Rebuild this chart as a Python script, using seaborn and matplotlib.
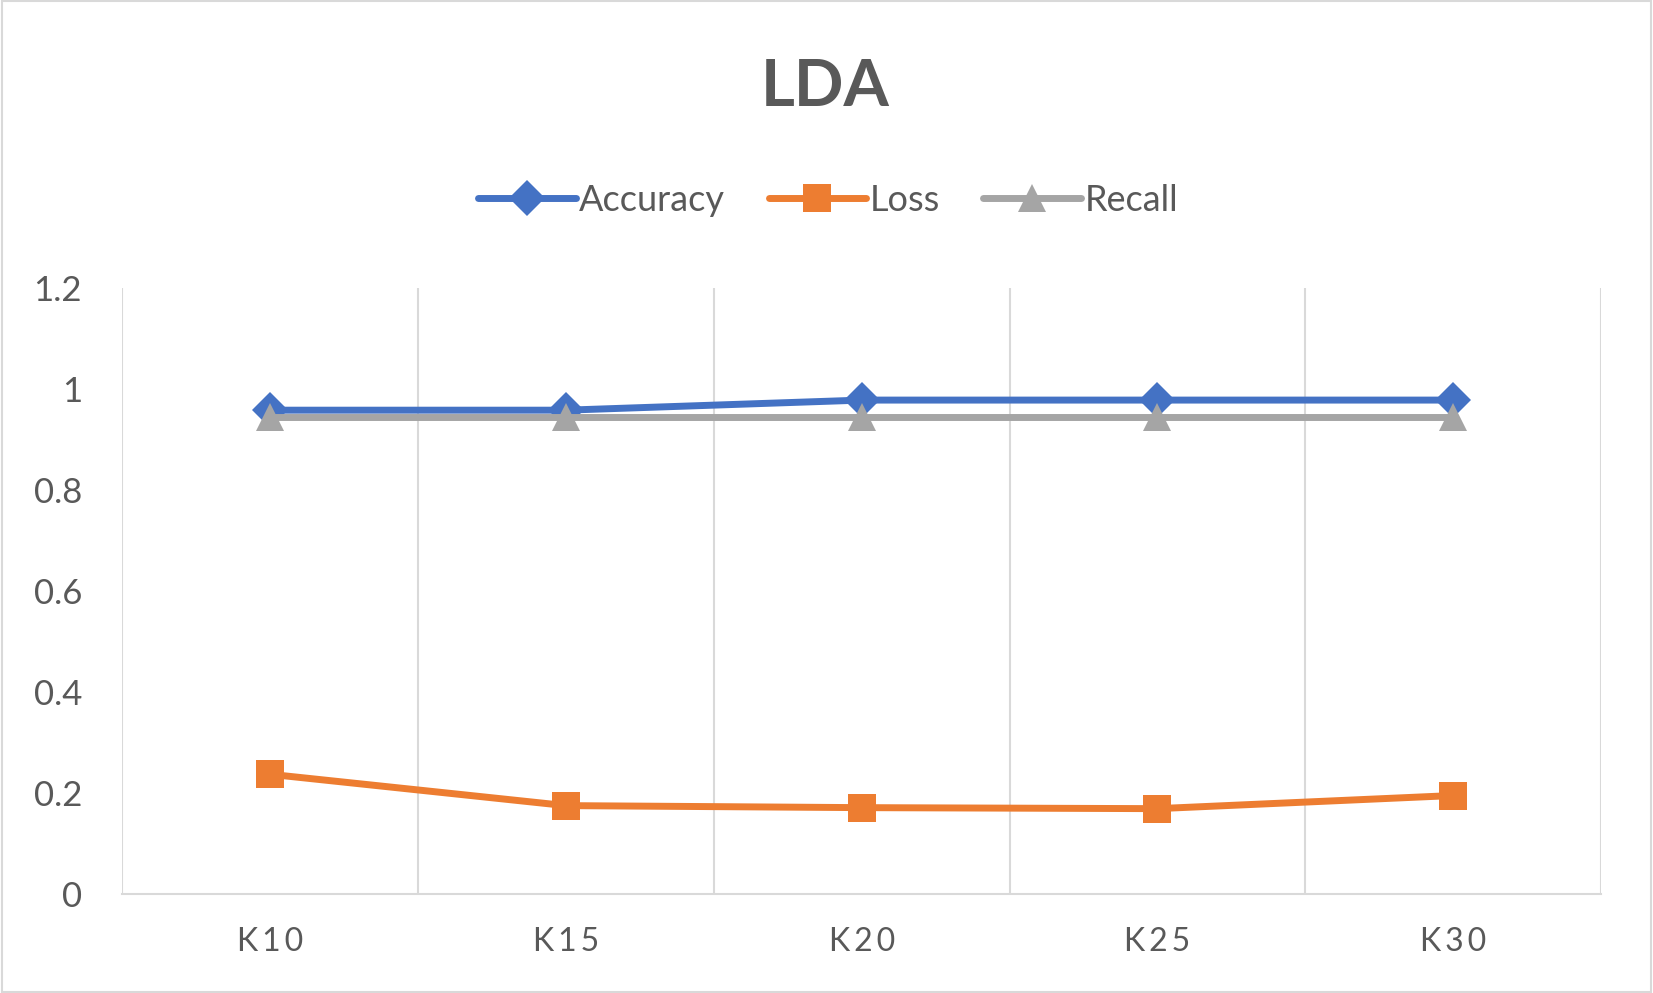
import pandas as pd
import matplotlib.pyplot as plt
import seaborn as sns
from matplotlib.patches import Rectangle

# -------------------- DATA --------------------
categories = ["K10", "K15", "K20", "K25", "K30"]
accuracy = [0.958, 0.958, 0.978, 0.978, 0.978]
loss = [0.237, 0.175, 0.171, 0.169, 0.195]
recall = [0.945, 0.945, 0.945, 0.945, 0.945]
y_ticks = [0, 0.2, 0.4, 0.6, 0.8, 1, 1.2]
y_tick_labels = ["0", "0.2", "0.4", "0.6", "0.8", "1", "1.2"]

series = [
    ("Accuracy", accuracy, "#4472C4", "D", 18),
    ("Loss", loss, "#ED7D31", "s", 20),
    ("Recall", recall, "#A5A5A5", "^", 20),
]

# -------------------- STYLE --------------------
sns.set_theme(style="white")
plt.rcParams["font.family"] = ["Lato", "DejaVu Sans"]
text_col = "#595959"

fig = plt.figure(figsize=(16.53, 9.93), dpi=100)
ax = fig.add_axes([0.074, 0.0997, 0.8946, 0.6103])

for name, vals, col, mk, ms in series:
    df = pd.DataFrame({"k": categories, "v": vals})
    sns.lineplot(data=df, x="k", y="v", ax=ax, color=col, linewidth=5,
                 marker=mk, markersize=ms, markeredgewidth=0,
                 label=name, sort=False)

# vertical grid lines between categories (Excel style)
ax.set_xlim(-0.5, len(categories) - 0.5)
ax.set_ylim(0, 1.2)
for xb in [i + 0.5 for i in range(-1, len(categories))]:
    ax.axvline(xb, color="#D9D9D9", linewidth=1.5, zorder=0)

ax.set_yticks(y_ticks)
ax.set_yticklabels(y_tick_labels)
ax.set_xticks(range(len(categories)))
# wide letter spacing like the original axis labels
ax.set_xticklabels(["\u2009".join(c) for c in categories])
ax.tick_params(axis="both", length=0, labelcolor=text_col)
ax.tick_params(axis="y", pad=29, labelsize=25)
ax.tick_params(axis="x", pad=24, labelsize=23)
ax.set_xlabel("")
ax.set_ylabel("")
for s in ["top", "right", "left"]:
    ax.spines[s].set_visible(False)
ax.spines["bottom"].set_color("#D9D9D9")
ax.spines["bottom"].set_linewidth(1.5)

fig.text(0.4995, 0.912, "LDA", ha="center", va="center",
         fontsize=47, fontweight="bold", color=text_col)

ax.legend(loc="center", bbox_to_anchor=(0.501, 0.798), bbox_transform=fig.transFigure,
          ncol=3, frameon=False, fontsize=26, labelcolor=text_col,
          handlelength=2.7, handletextpad=0.1, columnspacing=1.2)

# light border round the chart
fig.add_artist(Rectangle((0.001, 0.001), 0.998, 0.998, transform=fig.transFigure,
                         fill=False, edgecolor="#D9D9D9", linewidth=1.5))

plt.savefig("out.png", dpi=100)
plt.close()
